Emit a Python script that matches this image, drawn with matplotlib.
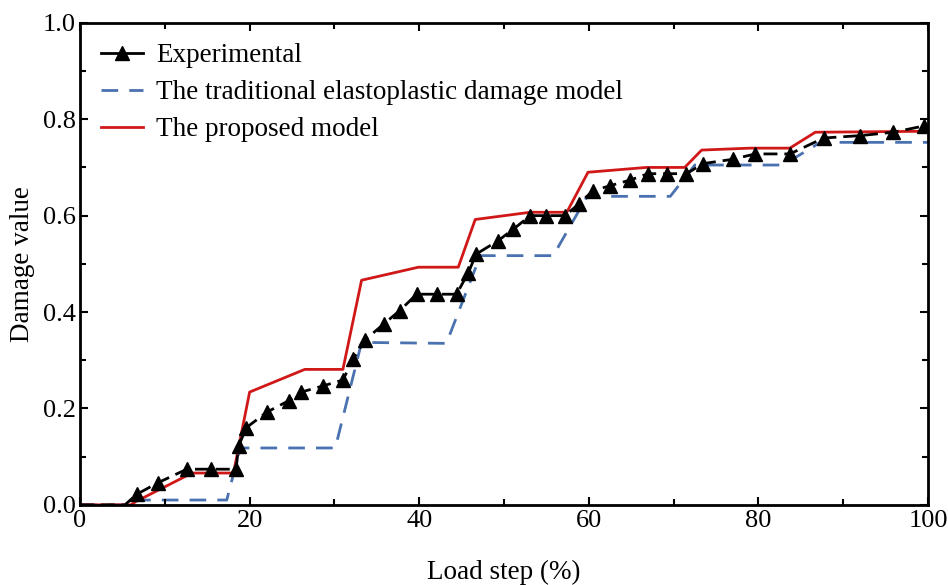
import matplotlib
matplotlib.use("Agg")
import matplotlib.pyplot as plt
from matplotlib.ticker import MultipleLocator, FormatStrFormatter
from matplotlib.lines import Line2D

plt.rcParams['font.family'] = ['Liberation Serif', 'DejaVu Serif']

exp_x = [0, 5.3, 6.7, 9.2, 12.6, 15.5, 18.4, 18.7, 19.6, 22.0, 24.6, 26.1, 28.7, 31.0,
         32.2, 33.6, 35.8, 37.7, 39.7, 42.1, 44.4, 45.8, 46.7, 49.3, 51.1, 53.1,
         55.0, 57.2, 58.8, 60.5, 62.5, 64.9, 67.0, 69.2, 71.5, 73.5, 77.0, 79.6,
         83.7, 87.7, 92.0, 95.9, 99.5]
exp_y = [0, 0.0, 0.022, 0.046, 0.074, 0.074, 0.074, 0.122, 0.160, 0.192, 0.216, 0.234,
         0.247, 0.259, 0.302, 0.342, 0.375, 0.403, 0.437, 0.437, 0.437, 0.482,
         0.520, 0.548, 0.572, 0.600, 0.600, 0.600, 0.624, 0.652, 0.662, 0.674,
         0.687, 0.687, 0.687, 0.708, 0.717, 0.728, 0.728, 0.761, 0.766, 0.773, 0.786]

trad_x = [0, 5.2, 6.0, 17.3, 18.9, 30.1, 33.2, 43.2, 47.2, 55.8, 59.8, 69.6, 72.5,
          82.9, 87.3, 100]
trad_y = [0, 0.0, 0.010, 0.010, 0.118, 0.118, 0.337, 0.335, 0.517, 0.517, 0.640,
          0.640, 0.705, 0.705, 0.752, 0.752]

prop_x = [0, 6.0, 6.6, 13.2, 18.1, 20.0, 26.5, 31.0, 33.2, 39.9, 44.6, 46.6, 53.1,
          57.4, 59.9, 66.8, 71.3, 73.3, 79.0, 83.7, 86.7, 99.6, 100]
prop_y = [0, 0.0, 0.007, 0.066, 0.066, 0.234, 0.281, 0.281, 0.466, 0.493, 0.493,
          0.592, 0.607, 0.607, 0.690, 0.700, 0.700, 0.736, 0.740, 0.740, 0.773,
          0.775, 0.780]

fig = plt.figure(figsize=(9.48, 5.85), dpi=100)
ax = fig.add_axes([0.0844, 0.137, 0.8946, 0.824])

ax.plot(prop_x, prop_y, color='#d01818', lw=2.0, zorder=2)
ax.plot(trad_x, trad_y, color='#4a72b0', lw=2.0, ls=(0, (6, 4)), zorder=1)
ax.plot(exp_x, exp_y, color='black', lw=2.0, ls=(0, (5, 2.5)), marker='^',
        markersize=10, markevery=list(range(2, len(exp_x))), zorder=3)

ax.set_xlim(0, 100)
ax.set_ylim(0, 1.0)
ax.xaxis.set_major_locator(MultipleLocator(20))
ax.xaxis.set_minor_locator(MultipleLocator(10))
ax.yaxis.set_major_locator(MultipleLocator(0.2))
ax.yaxis.set_minor_locator(MultipleLocator(0.1))
ax.yaxis.set_major_formatter(FormatStrFormatter('%.1f'))
ax.tick_params(which='both', direction='in', top=True, right=True, width=1.5,
               labelsize=19)
ax.tick_params(which='major', length=6)
ax.tick_params(which='minor', length=4)
ax.tick_params(axis='y', pad=3)
for s in ax.spines.values():
    s.set_linewidth(2.0)

ax.set_xlabel('Load step (%)', fontsize=19.5, labelpad=20)
ax.set_ylabel('Damage value', fontsize=19.5, labelpad=6)

h_exp = Line2D([], [], color='black', lw=2.0, marker='^', markersize=10)
h_trad = Line2D([], [], color='#4a72b0', lw=2.0, ls=(0, (6, 4)))
h_prop = Line2D([], [], color='#d01818', lw=2.0)
ax.legend([h_exp, h_trad, h_prop],
          ['Experimental', 'The traditional elastoplastic damage model',
           'The proposed model'],
          loc='upper left', frameon=False, fontsize=19.5, handlelength=1.55,
          handletextpad=0.48, labelspacing=0.44, borderaxespad=0,
          bbox_to_anchor=(0.012, 0.98))

fig.savefig('out.png', dpi=100)
